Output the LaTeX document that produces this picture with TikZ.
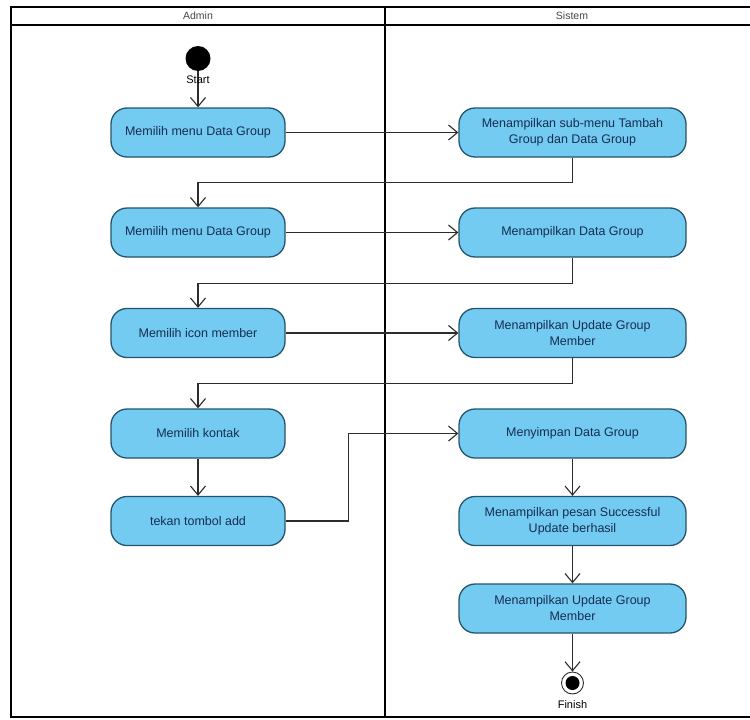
\documentclass[tikz,border=0pt]{standalone}
\usepackage{fontspec}
\setmainfont{Liberation Sans}
\usetikzlibrary{arrows.meta}
\definecolor{boxfill}{RGB}{115,203,242}
\definecolor{boxborder}{RGB}{35,85,110}
\definecolor{boxtext}{RGB}{22,45,80}
\definecolor{flowcol}{RGB}{45,45,45}
\definecolor{headtext}{RGB}{70,70,70}
\begin{document}
\begin{tikzpicture}[x=1pt,y=-1pt,
  act/.style={draw=boxborder, fill=boxfill, rounded corners=16pt, line width=1.3pt,
    minimum height=49pt, align=center, text=boxtext, inner sep=2pt,
    font=\fontsize{12.5}{16}\selectfont},
  adminact/.style={act, minimum width=174pt},
  sysact/.style={act, minimum width=227pt},
  flow/.style={draw=flowcol, line width=1.1pt, -{Straight Barb[length=9pt,width=15pt,line width=1.1pt]}},
  lanehead/.style={font=\fontsize{10.5}{12}\selectfont, text=headtext},
  lbl/.style={font=\fontsize{11}{13}\selectfont, text=black, inner sep=0pt},
]
\useasboundingbox (0,0) rectangle (750,720);
\fill[white] (0,0) rectangle (750,720);
% swimlane frame
\draw[line width=1.8pt] (11,7) rectangle (754,717);
\draw[line width=1.8pt] (11,25) -- (754,25);
\draw[line width=1.8pt] (385,7) -- (385,717);
\node[lanehead] (hA) at (198,16) {Admin};
\node[lanehead] (hS) at (572,16) {Sistem};

% start / finish
\node[circle, fill=black, minimum size=25pt, inner sep=0pt] (start) at (198,58.5) {};
\node[circle, draw=flowcol, fill=white, line width=0.9pt, minimum size=22pt, inner sep=0pt] (finish) at (572.5,683) {};
\node[circle, fill=black, minimum size=14pt, inner sep=0pt] (finishdot) at (572.5,683) {};

% Admin actions
\node[adminact] (A1) at (198,132.5) {Memilih menu Data Group};
\node[adminact] (A2) at (198,232.5) {Memilih menu Data Group};
\node[adminact] (A3) at (198,333) {Memilih icon member};
\node[adminact] (A4) at (198,433.5) {Memilih kontak};
\node[adminact] (A5) at (198,521) {tekan tombol add};

% Sistem actions
\node[sysact] (S1) at (572.5,132.5) {Menampilkan sub-menu Tambah\\Group dan Data Group};
\node[sysact] (S2) at (572.5,232.5) {Menampilkan Data Group};
\node[sysact] (S3) at (572.5,333) {Menampilkan Update Group\\Member};
\node[sysact] (S4) at (572.5,433.5) {Menyimpan Data Group};
\node[sysact] (S5) at (572.5,521) {Menampilkan pesan Successful\\Update berhasil};
\node[sysact] (S6) at (572.5,608.5) {Menampilkan Update Group\\Member};

% flows
\draw[flow] (start) -- (A1);
\node[lbl] (startlbl) at (198,80) {Start};
\draw[flow] (A1.east) -- (S1.west);
\draw[flow] (S1.south) -- ++(0,24.5) -| (A2.north);
\draw[flow] (A2.east) -- (S2.west);
\draw[flow] (S2.south) -- ++(0,25.5) -| (A3.north);
\draw[flow] (A3.east) -- (S3.west);
\draw[flow] (S3.south) -- ++(0,25) -| (A4.north);
\draw[flow] (A4) -- (A5);
\draw[flow] (A5.east) -- ++(63,0) |- (S4.west);
\draw[flow] (S4) -- (S5);
\draw[flow] (S5) -- (S6);
\draw[flow] (S6) -- (finish);
\node[lbl] (finishlbl) at (572.5,705) {Finish};
\end{tikzpicture}
\end{document}
